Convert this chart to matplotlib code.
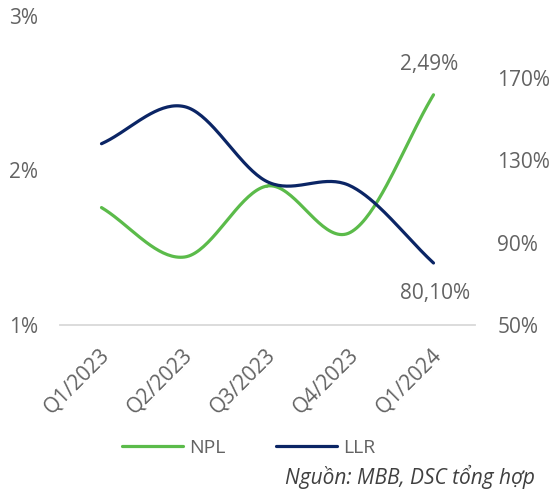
import numpy as np
import matplotlib.pyplot as plt
from matplotlib.transforms import ScaledTranslation

plt.rcParams['font.family'] = ['Open Sans', 'DejaVu Sans']

quarters = ["Q1/2023", "Q2/2023", "Q3/2023", "Q4/2023", "Q1/2024"]
npl = [1.76, 1.44, 1.90, 1.60, 2.49]      # %
llr = [138.0, 156.0, 119.5, 117.5, 80.1]  # %

green = "#5BBB4A"
navy = "#0B2565"
grey = "#636363"


def smooth(x, y, n=40):
    # catmull-rom, giong kieu "smoothed line" cua Excel
    x = np.asarray(x, float)
    y = np.asarray(y, float)
    px = np.concatenate([[2 * x[0] - x[1]], x, [2 * x[-1] - x[-2]]])
    py = np.concatenate([[2 * y[0] - y[1]], y, [2 * y[-1] - y[-2]]])
    xs, ys = [], []
    t = np.linspace(0, 1, n)
    for i in range(1, len(px) - 2):
        p0, p1, p2, p3 = py[i - 1], py[i], py[i + 1], py[i + 2]
        q0, q1, q2, q3 = px[i - 1], px[i], px[i + 1], px[i + 2]
        ys.append(0.5 * (2 * p1 + (-p0 + p2) * t + (2 * p0 - 5 * p1 + 4 * p2 - p3) * t**2
                         + (-p0 + 3 * p1 - 3 * p2 + p3) * t**3))
        xs.append(0.5 * (2 * q1 + (-q0 + q2) * t + (2 * q0 - 5 * q1 + 4 * q2 - q3) * t**2
                         + (-q0 + 3 * q1 - 3 * q2 + q3) * t**3))
    return np.concatenate(xs), np.concatenate(ys)


fig = plt.figure(figsize=(5.55, 4.99), dpi=100)
ax = fig.add_axes([60 / 555, 1 - 325 / 499, 415 / 555, 309 / 499])
ax2 = ax.twinx()

x = np.arange(len(quarters))
sx, sy = smooth(x, npl)
ax.plot(sx, sy, color=green, lw=2.3, solid_capstyle='round', label="NPL")
sx2, sy2 = smooth(x, llr)
ax2.plot(sx2, sy2, color=navy, lw=2.3, solid_capstyle='round', label="LLR")

ax.set_xlim(-0.5, len(quarters) - 0.5)
ax.set_ylim(1, 3)
ax.set_yticks([1, 2, 3])
ax.set_yticklabels(["1%", "2%", "3%"])
ax2.set_ylim(50, 200)
ax2.set_yticks([50, 90, 130, 170])
ax2.set_yticklabels(["50%", "90%", "130%", "170%"])

for a in (ax, ax2):
    for s in a.spines.values():
        s.set_visible(False)
    a.tick_params(length=0, labelsize=15, labelcolor=grey)
ax.spines['bottom'].set_visible(True)
ax.spines['bottom'].set_color("#D9D9D9")
ax.spines['bottom'].set_linewidth(1.3)
ax.tick_params(axis='y', pad=16)
ax2.tick_params(axis='y', pad=16)

ax.set_xticks(x)
ax.set_xticklabels(quarters, rotation=45, ha='right', va='center', rotation_mode='anchor')
ax.tick_params(axis='x', pad=19)
shift = ScaledTranslation(5 / 100, 0, fig.dpi_scale_trans)
for lbl in ax.get_xticklabels():
    lbl.set_transform(lbl.get_transform() + shift)

ax.annotate("2,49%", (x[-1], npl[-1]), xytext=(-3, 22), textcoords='offset points',
            ha='center', va='center', fontsize=15, color=grey)
ax2.annotate("80,10%", (x[-1], llr[-1]), xytext=(1, -22), textcoords='offset points',
             ha='center', va='center', fontsize=15, color=grey)

h1, l1 = ax.get_legend_handles_labels()
h2, l2 = ax2.get_legend_handles_labels()
fig.legend(h1 + h2, l1 + l2, loc='center', bbox_to_anchor=(249 / 555, 1 - 448 / 499),
           ncol=2, frameon=False, fontsize=14, labelcolor=grey, handlelength=3.1,
           handletextpad=0.35, columnspacing=2.6)

fig.text(535 / 555, 1 - 477 / 499, "Nguồn: MBB, DSC tổng hợp", ha='right', va='center',
         fontsize=15, style='italic', color="#404040")

plt.savefig("out.png", dpi=100)
plt.close()
